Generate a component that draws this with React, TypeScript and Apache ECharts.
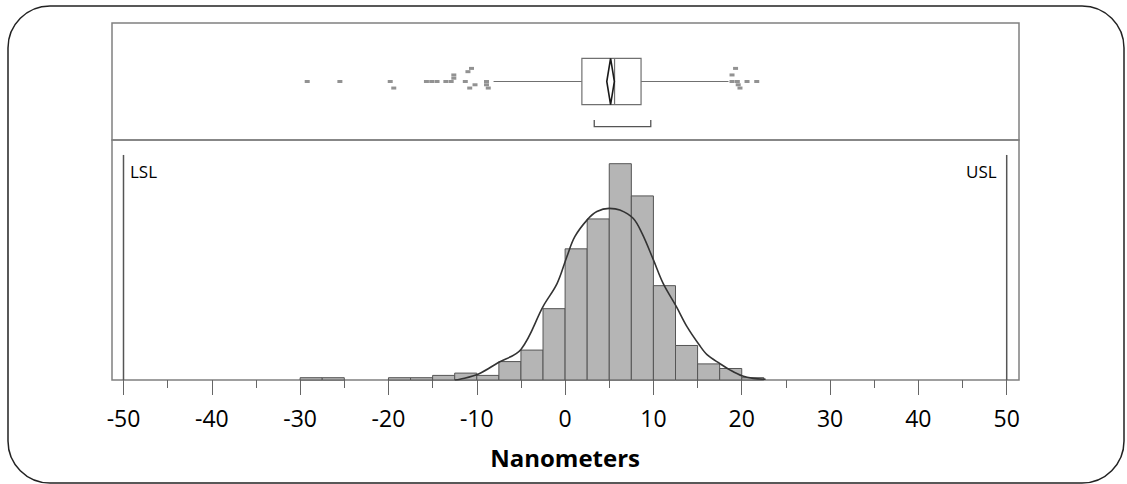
import React, { useEffect, useRef } from "react";
import * as echarts from "echarts";

// ---------- data ----------
const binWidth = 2.5;
const binStarts = [-30, -27.5, -25, -22.5, -20, -17.5, -15, -12.5, -10, -7.5, -5, -2.5, 0, 2.5, 5, 7.5, 10, 12.5, 15, 17.5, 20];
const binCounts = [1, 1, 0, 0, 1, 1, 2, 3, 2, 8, 13, 31, 57, 70, 94, 80, 41, 15, 7, 5, 1];

const densityX = [-12.5, -11.9, -9.8, -7.6, -5.0, -2.5, -0.9, 0.2, 1.1, 2.5, 3.6, 5.0, 6.2, 7.7, 8.7, 10.0, 11.1, 12.6, 13.8, 15.2, 16.1, 17.5, 18.7, 20.1, 21.3, 22.7];
const densityY = [0, 0.3, 2.6, 7.5, 13.3, 31.9, 42.0, 53.6, 62.3, 69.6, 73.2, 74.6, 73.9, 70.3, 63.8, 52.2, 42.0, 31.9, 23.2, 15.2, 10.9, 7.2, 4.3, 1.7, 0.7, 0.3];

// whisker low, Q1, median, Q3, whisker high
const boxStats = [-8.1, 1.9, 5.6, 8.6, 18.5];
// mean confidence diamond: lower, mean, upper
const meanDiamond = [4.72, 5.15, 5.58];
const shortestHalf = [3.3, 9.7];

const outlierValues = [-29.2, -25.5, -19.8, -19.4, -15.7, -15.1, -14.5, -13.5, -12.9, -12.6, -12.6, -11.3, -11.0, -10.6, -10.8, -10.2, -8.9, -8.9, -8.7, 19.3, 18.9, 18.9, 19.5, 20.6, 21.7, 19.6, 19.8];
const outlierStack = [0, 0, 0, -2, 0, 0, 0, 0, 0, 1, 2, 0, 3, 4, -2, -1, 0, -1, -2, 4, 2, 0, 0, 0, 0, -1, -2];

const specLimits = [-50, 50];
const specLabels = ["LSL", "USL"];
const axisMin = -50;
const axisMax = 50;
const axisInterval = 10;
const axisTitle = "Nanometers";

// ---------- layout / style constants ----------
const FRAME_LEFT = 112;
const FRAME_WIDTH = 907;
const DATA_LEFT = 123.5;
const DATA_WIDTH = 883.2;
const BOX_TOP = 23;
const BOX_H = 117;
const HIST_TOP = 140;
const HIST_H = 240;
const HIST_YMAX = 104.3;
const SPEC_TOP = 97.8;
const FONT = "'Open Sans', 'DejaVu Sans', sans-serif";

export default function App() {
  const ref = useRef<HTMLDivElement>(null);

  useEffect(() => {
    if (!ref.current) return;
    const chart = echarts.init(ref.current, undefined, { renderer: "svg" });

    const histData = binStarts
      .map((s, i) => [s, s + binWidth, binCounts[i]])
      .filter((d) => d[2] > 0);

    const densityData = densityX.map((x, i) => [x, densityY[i]]);
    const outlierData = outlierValues.map((v, i) => [v, 0.5 + outlierStack[i] * 0.028]);
    const specData = specLimits.map((v, i) => [v, SPEC_TOP, i]);

    const hiddenAxis = (gi: number) => ({
      type: "value",
      gridIndex: gi,
      show: false,
      min: 0,
      max: 1,
    });

    const option: any = {
      animation: false,
      backgroundColor: "#ffffff",
      graphic: [
        {
          type: "rect",
          shape: { x: 8, y: 6, width: 1116, height: 477, r: 42 },
          style: { fill: "none", stroke: "#222", lineWidth: 1.5 },
          silent: true,
          z: 100,
        },
      ],
      grid: [
        { left: FRAME_LEFT, width: FRAME_WIDTH, top: BOX_TOP, height: BOX_H, show: true, borderColor: "#808080", borderWidth: 1.5, backgroundColor: "transparent" },
        { left: FRAME_LEFT, width: FRAME_WIDTH, top: HIST_TOP, height: HIST_H, show: true, borderColor: "#808080", borderWidth: 1.5, backgroundColor: "transparent" },
        { left: DATA_LEFT, width: DATA_WIDTH, top: BOX_TOP, height: BOX_H },
        { left: DATA_LEFT, width: DATA_WIDTH, top: HIST_TOP, height: HIST_H },
      ],
      xAxis: [
        hiddenAxis(0),
        hiddenAxis(1),
        { type: "value", gridIndex: 2, show: false, min: axisMin, max: axisMax },
        {
          type: "value",
          gridIndex: 3,
          min: axisMin,
          max: axisMax,
          interval: axisInterval,
          axisLine: { show: false },
          axisTick: { show: true, length: 15, lineStyle: { color: "#666", width: 1 } },
          minorTick: { show: true, splitNumber: 2, length: 8, lineStyle: { color: "#666", width: 1 } },
          splitLine: { show: false },
          minorSplitLine: { show: false },
          axisLabel: { fontSize: 23, color: "#000", margin: 26, fontFamily: FONT },
          name: axisTitle,
          nameLocation: "middle",
          nameGap: 65,
          nameTextStyle: { fontSize: 24, fontWeight: "bold", color: "#000", fontFamily: FONT },
        },
      ],
      yAxis: [
        hiddenAxis(0),
        hiddenAxis(1),
        { type: "value", gridIndex: 2, show: false, min: 0, max: 1 },
        { type: "value", gridIndex: 3, show: false, min: 0, max: HIST_YMAX },
      ],
      series: [
        {
          type: "custom",
          name: "histogram",
          xAxisIndex: 3,
          yAxisIndex: 3,
          data: histData,
          encode: { x: [0, 1], y: 2 },
          z: 2,
          renderItem: (params: any, api: any) => {
            const p0 = api.coord([api.value(0), api.value(2)]);
            const p1 = api.coord([api.value(1), 0]);
            return {
              type: "rect",
              shape: { x: p0[0], y: p0[1], width: p1[0] - p0[0], height: p1[1] - p0[1] },
              style: { fill: "#b5b5b5", stroke: "#555", lineWidth: 1 },
            };
          },
        },
        {
          type: "line",
          name: "density",
          xAxisIndex: 3,
          yAxisIndex: 3,
          data: densityData,
          smooth: 0.35,
          symbol: "none",
          lineStyle: { color: "#333", width: 1.6 },
          z: 3,
        },
        {
          type: "custom",
          name: "spec",
          xAxisIndex: 3,
          yAxisIndex: 3,
          data: specData,
          z: 4,
          renderItem: (params: any, api: any) => {
            const v = api.value(0);
            const idx = api.value(2);
            const top = api.coord([v, api.value(1)]);
            const base = api.coord([v, 0]);
            const left = idx === 0;
            return {
              type: "group",
              children: [
                {
                  type: "line",
                  shape: { x1: top[0], y1: top[1], x2: base[0], y2: base[1] },
                  style: { stroke: "#555", lineWidth: 1.5 },
                },
                {
                  type: "text",
                  x: left ? top[0] + 6.5 : top[0] - 10,
                  y: top[1] + 17,
                  style: {
                    text: specLabels[idx],
                    fontSize: 17,
                    fontFamily: FONT,
                    fill: "#000",
                    align: left ? "left" : "right",
                    verticalAlign: "middle",
                  },
                },
              ],
            };
          },
        },
        {
          type: "custom",
          name: "box",
          xAxisIndex: 2,
          yAxisIndex: 2,
          data: [[0]],
          z: 3,
          renderItem: (params: any, api: any) => {
            const [lo, q1, med, q3, hi] = boxStats;
            const X = (v: number) => api.coord([v, 0.5])[0];
            const Y = (f: number) => api.coord([0, f])[1];
            const cy = Y(0.5);
            const top = Y(0.697);
            const bot = Y(0.303);
            const bY = Y(0.114);
            const bTop = Y(0.171);
            const grey = "#707070";
            return {
              type: "group",
              children: [
                { type: "line", shape: { x1: X(lo), y1: cy, x2: X(q1), y2: cy }, style: { stroke: grey, lineWidth: 1.2 } },
                { type: "line", shape: { x1: X(q3), y1: cy, x2: X(hi), y2: cy }, style: { stroke: grey, lineWidth: 1.2 } },
                { type: "rect", shape: { x: X(q1), y: top, width: X(q3) - X(q1), height: bot - top }, style: { fill: "#fff", stroke: grey, lineWidth: 1.2 } },
                { type: "line", shape: { x1: X(med), y1: top, x2: X(med), y2: bot }, style: { stroke: grey, lineWidth: 1.2 } },
                {
                  type: "polygon",
                  shape: {
                    points: [
                      [X(meanDiamond[0]), cy],
                      [X(meanDiamond[1]), top],
                      [X(meanDiamond[2]), cy],
                      [X(meanDiamond[1]), bot],
                    ],
                  },
                  style: { fill: "none", stroke: "#1a1a1a", lineWidth: 1.6 },
                },
                {
                  type: "polyline",
                  shape: {
                    points: [
                      [X(shortestHalf[0]), bTop],
                      [X(shortestHalf[0]), bY],
                      [X(shortestHalf[1]), bY],
                      [X(shortestHalf[1]), bTop],
                    ],
                  },
                  style: { fill: "none", stroke: "#555", lineWidth: 1.3 },
                },
              ],
            };
          },
        },
        {
          type: "scatter",
          name: "outliers",
          xAxisIndex: 2,
          yAxisIndex: 2,
          data: outlierData,
          symbol: "rect",
          symbolSize: [5, 3],
          itemStyle: { color: "#777" },
          z: 4,
        },
      ],
    };

    chart.setOption(option);
    return () => chart.dispose();
  }, []);

  return (
    <div
      ref={ref}
      style={{ position: "fixed", left: 0, top: 0, width: 1127, height: 484, background: "#fff" }}
    />
  );
}
